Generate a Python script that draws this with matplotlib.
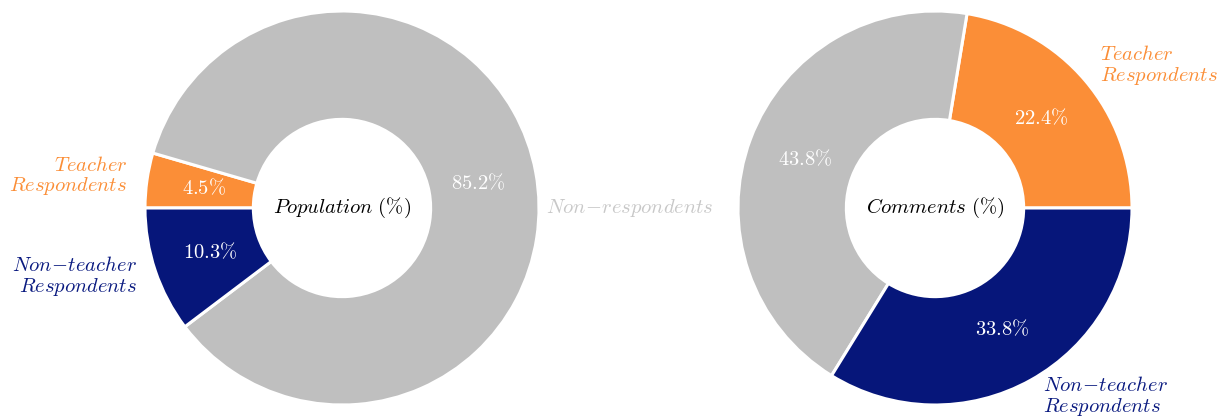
import matplotlib.pyplot as plt

plt.rcParams['mathtext.fontset'] = 'cm'
plt.rcParams['font.family'] = 'serif'
plt.rcParams['font.serif'] = ['DejaVu Serif']

categories = ['Teacher Respondents', 'Non-respondents', 'Non-teacher Respondents']
population = [4.5, 85.2, 10.3]
comments = [22.4, 43.8, 33.8]
colors = ['#fb8e37', '#bfbfbf', '#06167a']
label_colors = ['#fb8e37', '#c8c8c8', '#0a1a80']

teacher_txt = r'$\mathit{Teacher}$' + '\n' + r'$\mathit{Respondents}$'
nonteacher_txt = r'$\mathit{Non\!-\!teacher}$' + '\n' + r'$\mathit{Respondents}$'
nonresp_txt = r'$\mathit{Non\!-\!respondents}$'

# label text and placement per chart (x, y in pie radius units)
pop_labels = {
    0: (teacher_txt, -1.09, 0.16, 'right'),
    1: (nonresp_txt, 1.46, 0.0, 'center'),
    2: (nonteacher_txt, -1.04, -0.35, 'right'),
}
com_labels = {
    0: (teacher_txt, 0.84, 0.72, 'left'),
    2: (nonteacher_txt, 0.55, -0.96, 'left'),
}

W, H = 1220, 419
R = 197
FS = 14.8
fig = plt.figure(figsize=(W / 100, H / 100), dpi=100)


def donut(cx, cy, values, start, ccw, title, labels):
    ax = fig.add_axes([(cx - R) / W, (H - cy - R) / H, 2 * R / W, 2 * R / H])
    ax.pie(
        values, colors=colors, startangle=start, counterclock=ccw,
        autopct=lambda p: r'$%.1f\%%$' % p, pctdistance=0.705, radius=1,
        wedgeprops=dict(width=0.55, edgecolor='white', linewidth=2.2),
        textprops=dict(color='white', fontsize=FS),
    )
    ax.text(0, 0, title, ha='center', va='center', fontsize=FS, color='black')
    for i, (txt, x, y, ha) in labels.items():
        ax.text(x, y, txt, ha=ha, va='center', multialignment=ha,
                fontsize=FS, color=label_colors[i], linespacing=1.05)
    ax.set_xlim(-1, 1)
    ax.set_ylim(-1, 1)
    ax.set_aspect('equal')
    ax.axis('off')
    return ax


donut(342, 208, population, 180, False, r'$\mathit{Population}\ (\%)$', pop_labels)
donut(935, 208, comments, 0, True, r'$\mathit{Comments}\ (\%)$', com_labels)

fig.savefig('out.png', dpi=100)
